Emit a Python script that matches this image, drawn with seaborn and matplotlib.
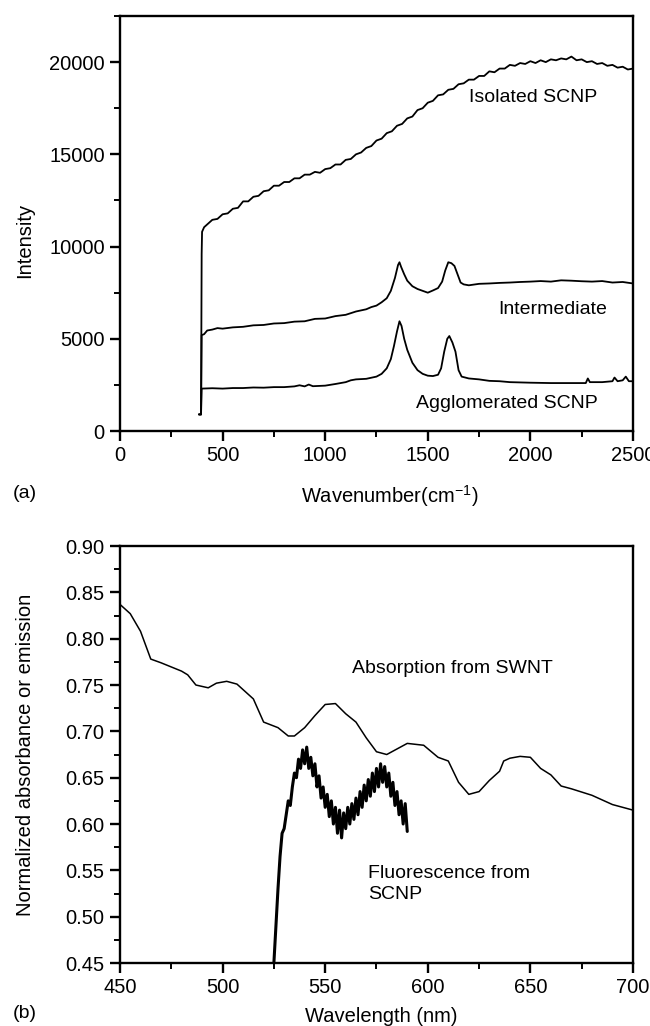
import matplotlib
matplotlib.use("Agg")
import matplotlib.pyplot as plt
import seaborn as sns
import pandas as pd
from matplotlib.ticker import MultipleLocator, FormatStrFormatter

# ---------------- Panel (a) data: Raman spectra ----------------
iso_x = [385, 395, 398, 400, 410, 430, 450, 475, 500, 525, 550, 575, 600, 625, 650, 675, 700,
         725, 750, 775, 800, 825, 850, 875, 900, 925, 950, 975, 1000, 1025, 1050, 1075, 1100,
         1125, 1150, 1175, 1200, 1225, 1250, 1275, 1300, 1325, 1350, 1375, 1400, 1425, 1450,
         1475, 1500, 1525, 1550, 1575, 1600, 1625, 1650, 1675, 1700, 1725, 1750, 1775, 1800,
         1825, 1850, 1875, 1900, 1925, 1950, 1975, 2000, 2025, 2050, 2075, 2100, 2125, 2150,
         2175, 2200, 2225, 2250, 2275, 2300, 2325, 2350, 2375, 2400, 2425, 2450, 2475, 2500]
iso_y = [900, 900, 9600, 10800, 11050, 11250, 11450, 11500, 11750, 11800, 12050, 12100, 12450,
         12450, 12700, 12750, 13000, 13050, 13300, 13300, 13500, 13500, 13700, 13700, 13900,
         13900, 14050, 14000, 14200, 14250, 14450, 14450, 14700, 14750, 15000, 15100, 15350,
         15450, 15750, 15850, 16150, 16250, 16550, 16650, 16950, 17050, 17400, 17500, 17800,
         17900, 18200, 18250, 18500, 18550, 18800, 18850, 19050, 19050, 19250, 19250, 19500,
         19450, 19650, 19650, 19850, 19800, 19950, 19900, 20050, 19950, 20100, 20000, 20150,
         20100, 20200, 20150, 20300, 20100, 20150, 20000, 20050, 19900, 19950, 19800, 19850,
         19700, 19750, 19600, 19650]

int_x = [385, 395, 398, 410, 425, 450, 475, 500, 550, 600, 650, 700, 750, 800, 850, 900, 950,
         1000, 1050, 1100, 1150, 1200, 1225, 1250, 1275, 1300, 1320, 1340, 1355, 1362, 1370,
         1385, 1400, 1425, 1450, 1475, 1500, 1525, 1550, 1570, 1585, 1600, 1615, 1630, 1645,
         1660, 1675, 1700, 1750, 1800, 1850, 1900, 1950, 2000, 2050, 2100, 2150, 2200, 2250,
         2300, 2350, 2400, 2450, 2500]
int_y = [900, 900, 5200, 5250, 5450, 5500, 5580, 5550, 5620, 5650, 5730, 5750, 5830, 5850, 5930,
         5950, 6080, 6100, 6230, 6300, 6480, 6600, 6720, 6800, 6980, 7200, 7600, 8300, 9000,
         9150, 8900, 8500, 8150, 7850, 7700, 7600, 7500, 7620, 7750, 8100, 8700, 9150, 9100,
         8950, 8500, 8050, 7950, 7900, 7980, 8000, 8030, 8050, 8080, 8100, 8130, 8100, 8170,
         8150, 8120, 8100, 8130, 8050, 8080, 8000]

agg_x = [385, 395, 398, 450, 500, 550, 600, 650, 700, 750, 800, 850, 875, 900, 920, 940, 1000,
         1050, 1100, 1125, 1150, 1200, 1250, 1275, 1300, 1320, 1335, 1350, 1362, 1372, 1385,
         1400, 1425, 1450, 1475, 1500, 1525, 1550, 1565, 1580, 1595, 1605, 1620, 1635, 1650,
         1665, 1700, 1750, 1800, 1850, 1900, 2000, 2100, 2200, 2270, 2280, 2290, 2350, 2400,
         2410, 2425, 2450, 2465, 2480, 2500]
agg_y = [900, 900, 2300, 2320, 2300, 2330, 2330, 2360, 2350, 2380, 2380, 2420, 2480, 2420, 2520,
         2430, 2460, 2550, 2650, 2750, 2800, 2830, 2950, 3100, 3400, 3900, 4600, 5400, 5950,
         5700, 5000, 4400, 3700, 3300, 3100, 3000, 2980, 3050, 3400, 4300, 5000, 5150, 4800,
         4300, 3300, 2950, 2850, 2800, 2720, 2700, 2650, 2620, 2600, 2600, 2600, 2850, 2650,
         2650, 2700, 2900, 2700, 2750, 2950, 2700, 2700]

# ---------------- Panel (b) data: absorption / fluorescence ----------------
abs_x = [450, 455, 460, 465, 470, 480, 483, 487, 493, 497, 502, 507, 515, 520, 527, 532, 535,
         540, 545, 550, 555, 560, 565, 570, 575, 580, 585, 590, 598, 605, 610, 615, 620, 625,
         630, 635, 637, 640, 645, 650, 655, 660, 665, 670, 680, 690, 700]
abs_y = [0.837, 0.827, 0.808, 0.778, 0.774, 0.765, 0.761, 0.750, 0.747, 0.752, 0.754, 0.751,
         0.735, 0.710, 0.704, 0.695, 0.695, 0.704, 0.717, 0.729, 0.730, 0.719, 0.710, 0.693,
         0.678, 0.675, 0.681, 0.687, 0.685, 0.672, 0.668, 0.645, 0.632, 0.635, 0.647, 0.657,
         0.668, 0.671, 0.673, 0.672, 0.660, 0.653, 0.641, 0.638, 0.631, 0.621, 0.615]

flu_x = list(range(525, 591))
flu_y = [0.45, 0.49, 0.53, 0.565, 0.59, 0.595, 0.61, 0.625, 0.62, 0.64, 0.655, 0.65, 0.67, 0.66,
         0.68, 0.665, 0.683, 0.66, 0.672, 0.652, 0.665, 0.64, 0.652, 0.628, 0.64, 0.618, 0.632,
         0.608, 0.625, 0.60, 0.618, 0.59, 0.615, 0.585, 0.612, 0.595, 0.618, 0.60, 0.622, 0.605,
         0.628, 0.61, 0.635, 0.618, 0.642, 0.625, 0.648, 0.63, 0.655, 0.635, 0.66, 0.64, 0.665,
         0.645, 0.662, 0.64, 0.655, 0.63, 0.645, 0.62, 0.635, 0.61, 0.625, 0.60, 0.622, 0.592]

# ---------------- Styling ----------------
sns.set_style("ticks")
plt.rcParams['font.family'] = ['Liberation Sans', 'DejaVu Sans']
plt.rcParams['mathtext.fontset'] = 'custom'
plt.rcParams['mathtext.rm'] = 'Liberation Sans'
plt.rcParams['mathtext.it'] = 'Liberation Sans'
plt.rcParams['font.size'] = 14
for k in ['text.color', 'axes.labelcolor', 'xtick.color', 'ytick.color', 'axes.edgecolor']:
    plt.rcParams[k] = 'black'

fig = plt.figure(figsize=(6.5, 10.26), dpi=100)
ax1 = fig.add_axes([0.1846, 0.5799, 0.7892, 0.4045])
ax2 = fig.add_axes([0.1846, 0.0614, 0.7892, 0.4064])

def style_axes(ax):
    for s in ax.spines.values():
        s.set_linewidth(1.7)
        s.set_color('black')
    ax.tick_params(which='major', direction='out', length=7, width=1.7, labelsize=14.5,
                   colors='black', pad=4)
    ax.tick_params(which='minor', direction='out', length=4, width=1.4, colors='black')

# Panel (a)
for xs, ys in [(iso_x, iso_y), (int_x, int_y), (agg_x, agg_y)]:
    df = pd.DataFrame({'x': xs, 'y': ys})
    sns.lineplot(data=df, x='x', y='y', ax=ax1, color='black', linewidth=1.3,
                 estimator=None, sort=False)
ax1.set_xlim(0, 2500)
ax1.set_ylim(0, 22500)
ax1.xaxis.set_major_locator(MultipleLocator(500))
ax1.xaxis.set_minor_locator(MultipleLocator(250))
ax1.yaxis.set_major_locator(MultipleLocator(5000))
ax1.yaxis.set_minor_locator(MultipleLocator(2500))
ax1.set_xlabel(r'Wavenumber(cm$^{-1}$)', fontsize=14.5)
ax1.set_ylabel('Intensity', fontsize=14.5)
ax1.xaxis.set_label_coords(0.525, -0.125)
ax1.yaxis.set_label_coords(-0.168, 0.46)
style_axes(ax1)
ax1.text(1700, 18100, 'Isolated SCNP', fontsize=14, ha='left', va='center')
ax1.text(1843, 6600, 'Intermediate', fontsize=14, ha='left', va='center')
ax1.text(1441, 1510, 'Agglomerated SCNP', fontsize=14, ha='left', va='center')
fig.text(25 / 650, 1 - 493 / 1026, '(a)', fontsize=14, ha='center', va='center')

# Panel (b)
df_abs = pd.DataFrame({'x': abs_x, 'y': abs_y})
df_flu = pd.DataFrame({'x': flu_x, 'y': flu_y})
sns.lineplot(data=df_abs, x='x', y='y', ax=ax2, color='black', linewidth=1.1,
             estimator=None, sort=False)
sns.lineplot(data=df_flu, x='x', y='y', ax=ax2, color='black', linewidth=2.2,
             estimator=None, sort=False)
ax2.set_xlim(450, 700)
ax2.set_ylim(0.45, 0.90)
ax2.xaxis.set_major_locator(MultipleLocator(50))
ax2.xaxis.set_minor_locator(MultipleLocator(25))
ax2.yaxis.set_major_locator(MultipleLocator(0.05))
ax2.yaxis.set_minor_locator(MultipleLocator(0.025))
ax2.yaxis.set_major_formatter(FormatStrFormatter('%.2f'))
ax2.set_xlabel('Wavelength (nm)', fontsize=14.5)
ax2.set_ylabel('Normalized absorbance or emission', fontsize=14.5)
ax2.xaxis.set_label_coords(0.51, -0.106)
ax2.yaxis.set_label_coords(-0.165, 0.5)
style_axes(ax2)
ax2.text(563, 0.768, 'Absorption from SWNT', fontsize=14, ha='left', va='center')
ax2.text(571, 0.535, 'Fluorescence from\nSCNP', fontsize=14, ha='left', va='center',
         linespacing=1.3)
fig.text(25 / 650, 1 - 1013 / 1026, '(b)', fontsize=14, ha='center', va='center')

fig.savefig('out.png', dpi=100)
